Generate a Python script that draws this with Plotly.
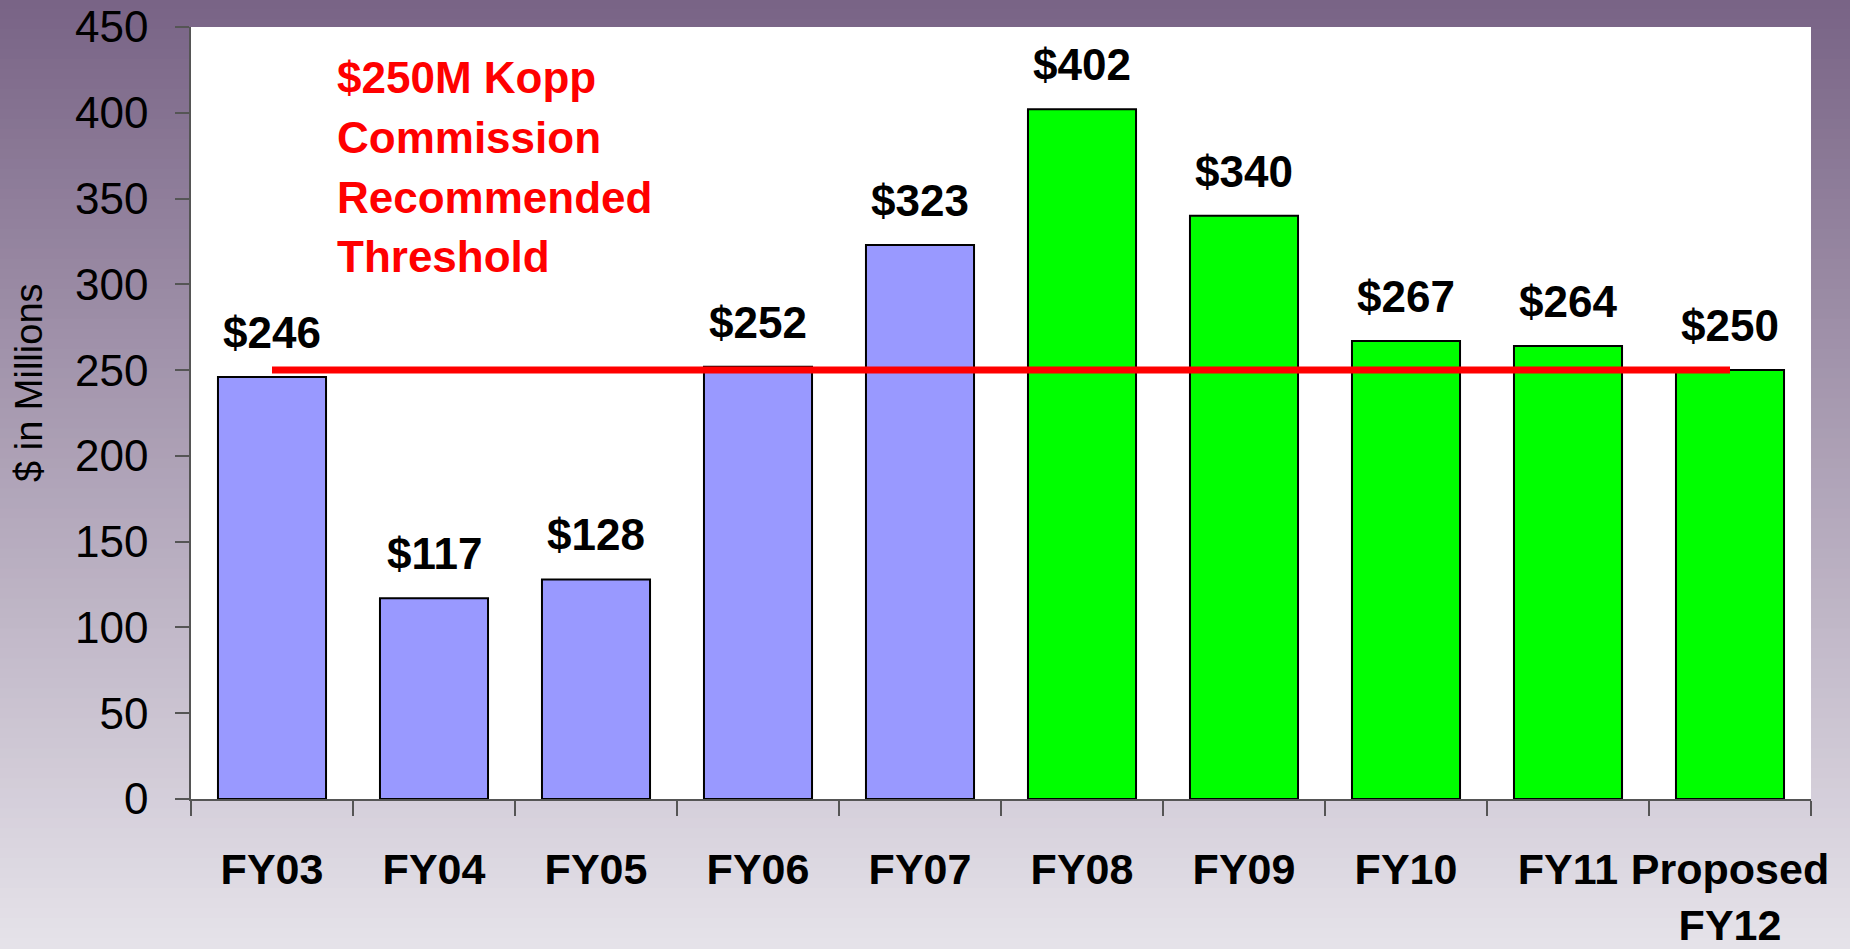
import plotly.graph_objects as go

categories = ["FY03", "FY04", "FY05", "FY06", "FY07", "FY08", "FY09", "FY10", "FY11", "Proposed<br>FY12"]
values = [246, 117, 128, 252, 323, 402, 340, 267, 264, 250]
value_labels = ["$246", "$117", "$128", "$252", "$323", "$402", "$340", "$267", "$264", "$250"]
threshold = 250
threshold_lines = ["$250M Kopp", "Commission", "Recommended", "Threshold"]
y_title = "$ in Millions"

bar_colors = ["#9999FF"] * 5 + ["#00FF00"] * 5

W, H = 1850, 949
L, R, T, B = 191, 39, 27, 150
pw, ph = W - L - R, H - T - B

fig = go.Figure()
fig.add_trace(go.Bar(
    x=categories, y=values, width=0.667,
    marker=dict(color=bar_colors, line=dict(color="black", width=2)),
    hoverinfo="skip", showlegend=False,
))
fig.add_trace(go.Scatter(
    x=[categories[0], categories[-1]], y=[threshold, threshold],
    mode="lines", line=dict(color="#FF0000", width=7),
    hoverinfo="skip", showlegend=False,
))

# gradient background bands
top_c = (120, 99, 133)
bot_c = (230, 227, 234)
shapes = []
nb = 95
for i in range(nb):
    y0px = i * H / nb
    y1px = (i + 1) * H / nb
    t = (i + 0.5) / nb
    c = tuple(round(top_c[k] + (bot_c[k] - top_c[k]) * t) for k in range(3))
    shapes.append(dict(
        type="rect", xref="paper", yref="paper", layer="below",
        x0=(-5 - L) / pw, x1=(W + 5 - L) / pw,
        y0=(H - B - y1px - 1) / ph, y1=(H - B - y0px + 1) / ph,
        fillcolor="rgb(%d,%d,%d)" % c, line=dict(width=0),
    ))
shapes.append(dict(type="rect", xref="paper", yref="paper", layer="below",
                   x0=0, x1=1, y0=0, y1=1, fillcolor="white", line=dict(width=0)))

annotations = []
for cat, v, lab in zip(categories, values, value_labels):
    annotations.append(dict(
        x=cat, y=v, xref="x", yref="y", text=lab, showarrow=False,
        yanchor="bottom", xanchor="center", yshift=18,
        font=dict(family="Liberation Sans", size=44, color="black", weight="bold"),
    ))
line_tops = [51, 111, 171, 230]
for txt, ytop in zip(threshold_lines, line_tops):
    annotations.append(dict(
        x=(335 - L) / pw, y=(H - B - ytop) / ph, xref="paper", yref="paper",
        text=txt, showarrow=False, align="left",
        xanchor="left", yanchor="top",
        font=dict(family="Liberation Sans", size=44, color="#FF0000", weight="bold"),
    ))
annotations.append(dict(
    x=(29 - L) / pw, y=(H - B - 383) / ph, xref="paper", yref="paper",
    text=y_title, showarrow=False, textangle=-90,
    xanchor="center", yanchor="middle",
    font=dict(family="Liberation Sans", size=38, color="black"),
))

fig.update_layout(
    template="none",
    width=W, height=H,
    margin=dict(l=L, r=R, t=T, b=B, autoexpand=False),
    paper_bgcolor="rgb(175,163,183)",
    plot_bgcolor="white",
    bargap=0.333,
    shapes=shapes,
    annotations=annotations,
    xaxis=dict(
        type="category", range=[-0.5, len(categories) - 0.5],
        tickson="boundaries", ticks="outside", ticklen=15, tickwidth=1.5, tickcolor="#555555",
        showline=True, linecolor="#555555", linewidth=1.5, showgrid=False, zeroline=False,
        tickfont=dict(family="Liberation Sans", size=43, color="black", weight="bold"),
        tickangle=0, ticklabelstandoff=32, automargin=False,
    ),
    yaxis=dict(
        range=[0, 450], dtick=50, tick0=0,
        ticks="outside", ticklen=14, tickwidth=1.5, tickcolor="#555555",
        showline=True, linecolor="#555555", linewidth=1.5, showgrid=False, zeroline=False,
        tickfont=dict(family="Liberation Sans", size=44, color="black"),
        ticklabelstandoff=18, automargin=False,
    ),
)

fig.write_html(
    "out.html",
    config={"displayModeBar": False},
    post_script="document.body.style.margin='0';document.body.style.overflow='hidden';",
)
